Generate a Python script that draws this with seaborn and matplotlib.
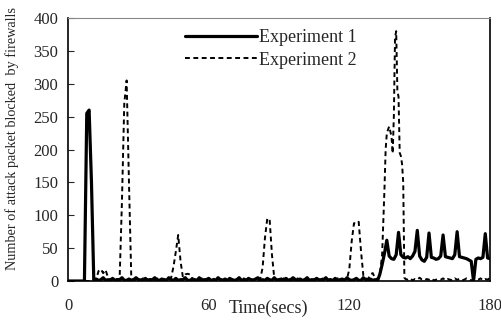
import pandas as pd
import numpy as np
import seaborn as sns
import matplotlib.pyplot as plt

# tempos (s) e pacotes bloqueados - experimento 1
time1 = list(range(0, 181))
exp1 = [0, 0, 0, 0, 0, 0, 0, 0, 255, 260, 150,
        0,
        3, 1, 2, 5, 1, 2, 1, 4, 1, 2,
        2, 5, 1, 1, 3, 1, 2, 5, 2, 1,
        1, 4, 1, 2, 2, 5, 1, 1, 3, 2,
        1, 5, 2, 1, 4, 1, 2, 2, 5, 1,
        1, 3, 2, 1, 5, 1, 2, 2, 4, 1,
        2, 1, 5, 2, 1, 3, 1, 4, 2, 1,
        2, 5, 1, 2, 1, 4, 2, 1, 3, 5,
        1, 2, 1, 4, 2, 1, 5, 1, 2, 3,
        1, 4, 1, 2, 5, 2, 1, 3, 1, 2,
        5, 1, 2, 1, 4, 2, 1, 2, 5, 1,
        2, 1, 4, 1, 2, 3, 1, 5, 2, 1,
        2, 4, 1, 1, 5, 2, 1, 3, 1, 2,
        0,
        10, 25, 42, 62, 38, 34, 33, 40, 74, 40,
        36, 35, 37, 34, 38, 45, 77, 38, 32, 30,
        36, 73, 36, 35, 33, 34, 38, 70, 37, 36,
        35, 34, 40, 75, 37, 36, 35, 34, 32, 30,
        0, 33, 35, 34, 36, 72, 35, 34]

# experimento 2
time2 = (list(range(0, 134))
         + [134, 135, 135.5, 136, 137, 138, 138.5, 139, 139.5, 140,
            140.5, 141, 141.5, 142, 142.5, 143, 143.5]
         + list(range(144, 181)))
exp2 = [0, 0, 0, 0, 0, 0, 0, 0, 0, 0, 0, 0,
        2, 15, 18, 12, 17, 6, 2, 3, 1, 3,
        2, 120, 270, 305, 150, 3,
        2, 1, 3, 2, 4, 1, 2, 3, 1, 2, 4, 1, 2, 3, 1, 2,
        5, 22, 45, 70, 30, 6, 10, 11, 10, 4,
        2, 3, 1, 4, 2, 1, 3, 2, 4, 1, 2, 3, 2, 1, 4, 2, 3, 1, 2, 3, 1, 4, 2, 1, 3, 2, 4, 1,
        3, 20, 65, 95, 94, 40, 4,
        2, 3, 1, 4, 2, 2, 3, 1, 2, 4, 1, 3, 2, 1, 4, 2, 3, 2, 1, 3, 4, 1, 2, 3, 2, 1, 4, 2, 3, 2,
        3, 18, 60, 88, 87, 90, 45, 8, 4, 3, 10, 12, 4, 3, 8,
        40, 140, 200, 225, 235, 220, 194, 250, 370, 380,
        290, 280, 195, 190, 178, 150, 5,
        3, 2, 4, 1, 3, 2, 5, 2, 1, 3, 2, 4, 1, 2, 3, 2, 4, 1, 3, 2, 1,
        4, 2, 3, 1, 2, 4, 3, 1, 2, 3, 2, 4, 1, 3, 2, 5]

xticks = [0, 60, 120, 180]
yticks = [0, 50, 100, 150, 200, 250, 300, 350, 400]

df1 = pd.DataFrame({'t': time1, 'v': exp1})
df2 = pd.DataFrame({'t': time2, 'v': exp2})

sns.set_style('ticks')
plt.rcParams['font.family'] = ['Liberation Serif', 'DejaVu Serif']

fig = plt.figure(figsize=(5.02, 3.24), dpi=100)
ax = fig.add_axes([0.1355, 0.1327, 0.8405, 0.8117])

sns.lineplot(data=df1, x='t', y='v', color='black', linewidth=2.3, label='Experiment 1', ax=ax)
sns.lineplot(data=df2, x='t', y='v', color='black', linewidth=1.4, label='Experiment 2', ax=ax)
ax.lines[1].set_dashes((2.5, 1.8))

ax.set_xlim(0, 180)
ax.set_ylim(0, 400)
ax.set_xticks(xticks)
ax.set_yticks(yticks)
ax.tick_params(axis='y', direction='in', length=4, labelsize=12, pad=7)
ax.tick_params(axis='x', length=0, labelsize=12, pad=12)

for s in ['left', 'bottom', 'right']:
    ax.spines[s].set_color('black')
    ax.spines[s].set_linewidth(1.2)
ax.spines['top'].set_color('#888888')
ax.spines['top'].set_linewidth(0.8)

ax.set_xlabel('Time(secs)', fontsize=13)
ax.xaxis.set_label_coords(0.476, -0.07)
ax.set_ylabel('Number of attack packet blocked  by firewalls', fontsize=10.3)
ax.yaxis.set_label_coords(-0.115, 0.54)

leg = ax.legend(loc='upper left', bbox_to_anchor=(0.26, 0.985), frameon=False,
                fontsize=13, handlelength=4.0, handletextpad=0.1,
                labelspacing=0.3, borderaxespad=0)
leg.get_lines()[1].set_dashes((2.5, 1.8))

fig.savefig('out.png', dpi=100)
